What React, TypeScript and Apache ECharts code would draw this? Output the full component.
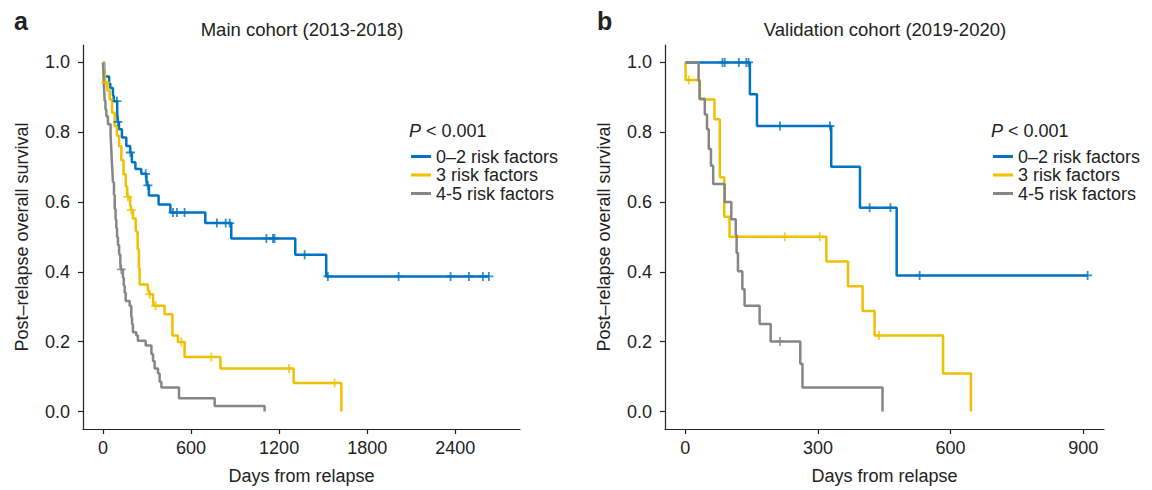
import React, { useEffect, useRef } from "react";
import * as echarts from "echarts";

const FONT = "'Liberation Sans', Arial, Helvetica, sans-serif";
const TEXT = "#222222";

const groupNames = ["0–2 risk factors", "3 risk factors", "4-5 risk factors"];
const groupColors = ["#0073C2", "#EFC000", "#868686"];

// ---- Main cohort (2013-2018): Kaplan-Meier steps [day, survival after event]
const mainLow: [number, number][] = [
  [0, 1], [8, 0.98], [12, 0.96], [42, 0.94], [50, 0.927], [68, 0.905], [73, 0.889],
  [97, 0.86], [100, 0.83], [109, 0.809], [129, 0.785], [159, 0.761], [185, 0.742],
  [197, 0.714], [221, 0.695], [261, 0.681], [296, 0.662], [300, 0.648], [313, 0.619],
  [379, 0.593], [459, 0.57], [697, 0.54], [874, 0.496], [1310, 0.449], [1521, 0.387],
  [2629, 0.387],
];
const mainLowCensor = [95, 102, 187, 291, 306, 477, 504, 556, 776, 836, 863, 1113, 1158, 1169, 1374, 1532, 2014, 2368, 2493, 2588, 2629];

const mainMid: [number, number][] = [
  [0, 1], [5, 0.97], [12, 0.943], [30, 0.92], [46, 0.894], [62, 0.856], [80, 0.818],
  [95, 0.79], [110, 0.76], [125, 0.72], [140, 0.68], [155, 0.645], [165, 0.615],
  [185, 0.59], [190, 0.577], [204, 0.553], [223, 0.525], [227, 0.515], [236, 0.465],
  [245, 0.411], [250, 0.364], [306, 0.345], [315, 0.336], [341, 0.326], [345, 0.303],
  [420, 0.279], [473, 0.218], [511, 0.199], [556, 0.156], [800, 0.123], [1299, 0.082],
  [1624, 0],
];
const mainMidCensor = [18, 170, 193, 318, 359, 534, 738, 1267, 1578];

const mainHigh: [number, number][] = [
  [0, 1], [4, 0.96], [8, 0.92], [12, 0.89], [17, 0.865], [23, 0.846], [34, 0.823],
  [52, 0.79], [56, 0.76], [60, 0.72], [64, 0.69], [68, 0.657], [75, 0.62], [80, 0.58],
  [86, 0.55], [91, 0.525], [96, 0.5], [102, 0.477], [110, 0.45], [118, 0.425],
  [122, 0.407], [136, 0.383], [142, 0.36], [148, 0.34], [155, 0.317], [182, 0.303],
  [193, 0.27], [198, 0.25], [204, 0.227], [227, 0.218], [238, 0.203], [291, 0.189],
  [330, 0.165], [341, 0.145], [352, 0.123], [375, 0.109], [386, 0.085], [398, 0.069],
  [518, 0.038], [761, 0.016], [1101, 0],
];
const mainHighCensor = [125];

// ---- Validation cohort (2019-2020)
const valLow: [number, number][] = [
  [0, 1], [146, 0.909], [162, 0.818], [330, 0.701], [395, 0.584], [478, 0.39], [910, 0.39],
];
const valLowCensor = [84, 89, 121, 138, 143, 214, 327, 417, 464, 530, 910];

const valMid: [number, number][] = [
  [0, 1], [1, 0.95], [33, 0.894], [66, 0.837], [78, 0.671], [88, 0.558], [100, 0.501],
  [319, 0.43], [368, 0.359], [401, 0.288], [428, 0.218], [583, 0.109], [646, 0],
];
const valMidCensor = [8, 225, 304, 438];

const valHigh: [number, number][] = [
  [0, 1], [30, 0.947], [32, 0.896], [44, 0.851], [49, 0.809], [53, 0.752], [58, 0.704],
  [63, 0.652], [89, 0.6], [104, 0.551], [114, 0.506], [116, 0.454], [119, 0.402],
  [129, 0.35], [134, 0.303], [168, 0.251], [193, 0.201], [260, 0.137], [265, 0.069],
  [446, 0],
];
const valHighCensor = [214];

const yTicks = [0, 0.2, 0.4, 0.6, 0.8, 1.0];
const mainXTicks = [0, 600, 1200, 1800, 2400];
const valXTicks = [0, 300, 600, 900];

function survivalAt(steps: [number, number][], day: number): number {
  let s = steps[0][1];
  for (const [t, v] of steps) {
    if (t <= day) s = v;
    else break;
  }
  return s;
}

const PLUS = "path://M-1,-5L1,-5L1,-1L5,-1L5,1L1,1L1,5L-1,5L-1,1L-5,1L-5,-1L-1,-1Z";

function buildSeries(panel: number, curves: [number, number][][], censors: number[][]) {
  const out: any[] = [];
  curves.forEach((steps, i) => {
    out.push({
      type: "line",
      name: groupNames[i],
      xAxisIndex: panel,
      yAxisIndex: panel,
      data: steps,
      step: "end",
      showSymbol: false,
      symbol: "none",
      color: groupColors[i],
      lineStyle: { color: groupColors[i], width: 2.5 },
      z: 2 + i,
    });
  });
  censors.forEach((days, i) => {
    out.push({
      type: "scatter",
      name: groupNames[i] + " censored",
      xAxisIndex: panel,
      yAxisIndex: panel,
      data: days.map((d) => [d, survivalAt(curves[i], d)]),
      symbol: PLUS,
      symbolSize: 9,
      itemStyle: { color: groupColors[i] },
      z: 6,
    });
  });
  return out;
}

function xAxis(grid: number, min: number, max: number, ticks: number[]) {
  return {
    type: "value",
    gridIndex: grid,
    min,
    max,
    axisLine: { show: true, onZero: false, lineStyle: { color: TEXT, width: 1.2 } },
    axisTick: { show: true, length: 5, customValues: ticks, lineStyle: { color: TEXT, width: 1.2 } },
    axisLabel: {
      customValues: ticks,
      fontSize: 18,
      color: TEXT,
      fontFamily: FONT,
      margin: 10,
      formatter: (v: number) => String(v),
    },
    splitLine: { show: false },
    name: "Days from relapse",
    nameLocation: "middle",
    nameGap: 38,
    nameTextStyle: { fontSize: 18, color: TEXT, fontFamily: FONT, verticalAlign: "top" },
  };
}

function yAxis(grid: number) {
  return {
    type: "value",
    gridIndex: grid,
    min: -0.05,
    max: 1.05,
    axisLine: { show: true, onZero: false, lineStyle: { color: TEXT, width: 1.2 } },
    axisTick: { show: true, length: 5, customValues: yTicks, lineStyle: { color: TEXT, width: 1.2 } },
    axisLabel: {
      customValues: yTicks,
      fontSize: 18,
      color: TEXT,
      fontFamily: FONT,
      margin: 13,
      formatter: (v: number) => v.toFixed(1),
    },
    splitLine: { show: false },
    name: "Post–relapse overall survival",
    nameLocation: "middle",
    nameGap: 52,
    nameTextStyle: { fontSize: 18, color: TEXT, fontFamily: FONT },
  };
}

function legend(left: number) {
  return {
    data: groupNames,
    orient: "vertical",
    left,
    top: 147.5,
    padding: 0,
    itemWidth: 20,
    itemHeight: 3,
    itemGap: 0.5,
    icon: "rect",
    selectedMode: false,
    textStyle: { fontSize: 18, color: TEXT, fontFamily: FONT, lineHeight: 18 },
  };
}

export default function App() {
  const ref = useRef<HTMLDivElement>(null);
  useEffect(() => {
    if (!ref.current) return;
    const chart = echarts.init(ref.current, undefined, { renderer: "svg" });
    const txt = (text: string, x: number, y: number, size: number, bold = false, align = "center") => ({
      type: "text",
      x,
      y,
      style: {
        text,
        fontSize: size,
        fontWeight: bold ? "bold" : "normal",
        fontFamily: FONT,
        fill: TEXT,
        align,
        verticalAlign: "middle",
      },
    });
    const pText = (x: number, y: number) => ({
      type: "text",
      x,
      y,
      style: {
        text: "{i|P} < 0.001",
        fontSize: 18,
        fontFamily: FONT,
        fill: TEXT,
        align: "left",
        verticalAlign: "middle",
        rich: { i: { fontStyle: "italic", fontSize: 18, fontFamily: FONT, fill: TEXT } },
      },
    });
    chart.setOption({
      animation: false,
      grid: [
        { left: 83, top: 45, width: 437, height: 388 },
        { left: 665, top: 45, width: 439, height: 388 },
      ],
      xAxis: [xAxis(0, -136, 2841, mainXTicks), xAxis(1, -46, 947, valXTicks)],
      yAxis: [yAxis(0), yAxis(1)],
      legend: [legend(411), legend(993)],
      graphic: [
        txt("a", 14, 21, 25, true, "left"),
        txt("b", 597, 21, 25, true, "left"),
        txt("Main cohort (2013-2018)", 302, 29, 18.5),
        txt("Validation cohort (2019-2020)", 885, 29, 18.5),
        pText(409, 131),
        pText(991, 131),
      ],
      series: [
        ...buildSeries(0, [mainLow, mainMid, mainHigh], [mainLowCensor, mainMidCensor, mainHighCensor]),
        ...buildSeries(1, [valLow, valMid, valHigh], [valLowCensor, valMidCensor, valHighCensor]),
      ],
    });
    return () => chart.dispose();
  }, []);
  return (
    <div
      ref={ref}
      style={{ position: "fixed", left: 0, top: 0, width: 1152, height: 490, background: "#fff" }}
    />
  );
}
